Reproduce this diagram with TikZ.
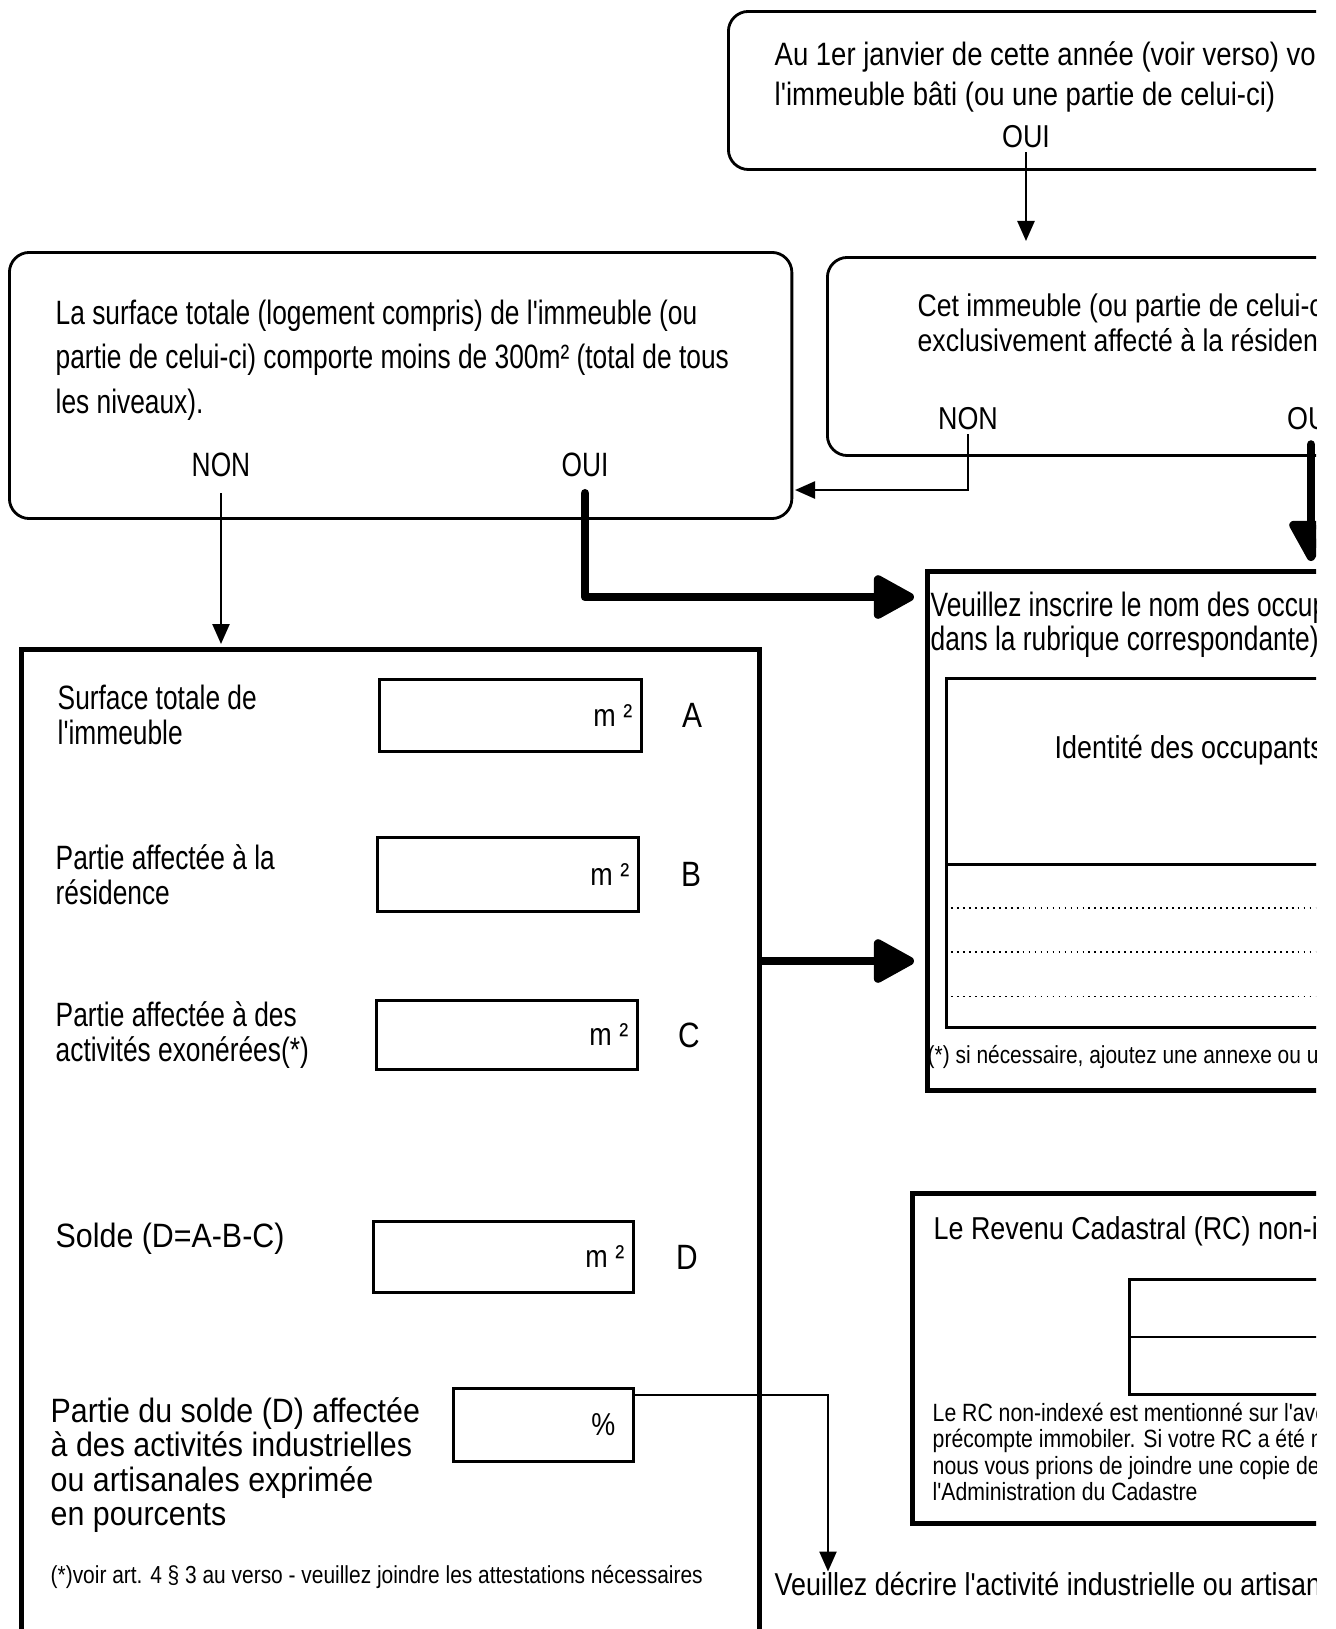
\documentclass[tikz,border=0pt]{standalone}
\usepackage{fontspec}
\setmainfont{Liberation Sans}
\newfontfamily\plainfont[FakeStretch=0.85]{Liberation Sans}
\newfontfamily\narrowfont[FakeStretch=0.78]{Liberation Sans}
\newfontfamily\midfont[FakeStretch=0.9]{Liberation Sans}
\usetikzlibrary{arrows.meta}

\begin{document}
\begin{tikzpicture}[
    x=0.01cm, y=-0.01cm,
    question/.style={draw, line width=0.8pt, rounded corners=0.2cm, anchor=north west, inner sep=0pt},
    panel/.style={draw, line width=1.4pt, anchor=north west, inner sep=0pt},
    field/.style={draw, line width=0.8pt, anchor=north west, inner sep=0pt},
    txt/.style={inner sep=0pt, align=left, anchor=west},
    answer/.style={inner sep=1pt},
    arrow/.style={-{Triangle[length=0.2cm, width=0.17cm]}, line width=0.7pt},
    bigarrow/.style={-{Triangle[length=0.45cm, width=0.47cm, round]}, line width=2.4pt, line cap=round, line join=round}
]
\fill[white] (0,0) rectangle (1335,1629);
\useasboundingbox (0,0) rectangle (1335,1629);
\begin{scope}
\clip (0,0) rectangle (1316,1629);

\node[question, minimum width=7cm, minimum height=1.58cm] (q1) at (727,10) {};
\node[txt, font=\plainfont\fontsize{9.2}{11.4}\selectfont] (q1text) at (774,77) {Au 1er janvier de cette année (voir verso) vo\\l'immeuble bâti (ou une partie de celui-ci)};
\node[answer, font=\plainfont\fontsize{9}{11}\selectfont] (oui1) at (1026,137) {OUI};

\node[question, minimum width=6cm, minimum height=1.98cm] (q2) at (826,256) {};
\node[txt, font=\plainfont\fontsize{8.9}{10}\selectfont] (q2text) at (917,323) {Cet immeuble (ou partie de celui-c\\exclusivement affecté à la résidenc};
\node[answer, font=\plainfont\fontsize{9}{11}\selectfont] (non2) at (968,419) {NON};
\node[answer, font=\plainfont\fontsize{9}{11}\selectfont] (oui2) at (1311,419) {OUI};

\node[question, minimum width=7.82cm, minimum height=2.66cm] (q3) at (8,251) {};
\node[txt, font=\narrowfont\fontsize{9.6}{12.7}\selectfont] (q3text) at (55,360) {La surface totale (logement compris) de l'immeuble (ou\\partie de celui-ci) comporte moins de 300m² (total de tous\\les niveaux).};
\node[answer, font=\narrowfont\fontsize{9.6}{11}\selectfont] (non3) at (221,465) {NON};
\node[answer, font=\narrowfont\fontsize{9.6}{11}\selectfont] (oui3) at (585,465) {OUI};

\node[panel, minimum width=5cm, minimum height=5.19cm] (r1) at (925,569) {};
\node[txt, font=\narrowfont\fontsize{9.6}{9.7}\selectfont] (r1text) at (930,625) {Veuillez inscrire le nom des occup\\dans la rubrique correspondante)};
\node[field, minimum width=4cm, minimum height=3.49cm] (tbl) at (945,677) {};
\node[txt, font=\plainfont\fontsize{9}{11}\selectfont] (idt) at (1054,750) {Identité des occupants};
\draw[line width=0.8pt] ([yshift=-1.87cm]tbl.north west) -- ([yshift=-1.87cm]tbl.north east);
\draw[dash pattern=on 0.5pt off 1.2pt] ([yshift=-2.31cm]tbl.north west) -- ([yshift=-2.31cm]tbl.north east);
\draw[dash pattern=on 0.5pt off 1.2pt] ([yshift=-2.75cm]tbl.north west) -- ([yshift=-2.75cm]tbl.north east);
\draw[dash pattern=on 0.5pt off 1.2pt] ([yshift=-3.19cm]tbl.north west) -- ([yshift=-3.19cm]tbl.north east);
\node[txt, font=\plainfont\fontsize{7}{8}\selectfont] (r1note) at (927,1057) {(*) si nécessaire, ajoutez une annexe ou u};

\node[panel, minimum width=7.38cm, minimum height=11cm] (lbox) at (19,647) {};
\node[txt, font=\narrowfont\fontsize{9.6}{10}\selectfont] (la) at (57,715) {Surface totale de\\l'immeuble};
\node[field, minimum width=2.62cm, minimum height=0.72cm] (fa) at (378,678) {};
\node[anchor=east, inner sep=0pt, font=\plainfont\fontsize{9}{11}\selectfont] (ua) at ([xshift=-0.1cm]fa.east) {m ²};
\node[font=\plainfont\fontsize{10}{12}\selectfont] (ka) at (692,715) {A};

\node[txt, font=\narrowfont\fontsize{9.6}{10}\selectfont] (lb) at (55,875) {Partie affectée à la\\résidence};
\node[field, minimum width=2.61cm, minimum height=0.74cm] (fb) at (376,836) {};
\node[anchor=east, inner sep=0pt, font=\plainfont\fontsize{9}{11}\selectfont] (ub) at ([xshift=-0.1cm]fb.east) {m ²};
\node[font=\plainfont\fontsize{10}{12}\selectfont] (kb) at (691,874) {B};

\node[txt, font=\narrowfont\fontsize{9.6}{10}\selectfont] (lc) at (55,1035) {Partie affectée à des\\activités exonérées(*)};
\node[field, minimum width=2.61cm, minimum height=0.69cm] (fc) at (375,999) {};
\node[anchor=east, inner sep=0pt, font=\plainfont\fontsize{9}{11}\selectfont] (uc) at ([xshift=-0.1cm]fc.east) {m ²};
\node[font=\plainfont\fontsize{10}{12}\selectfont] (kc) at (689,1035) {C};

\node[txt, font=\midfont\fontsize{9.6}{10}\selectfont] (ld) at (55,1239) {Solde (D=A-B-C)};
\node[field, minimum width=2.60cm, minimum height=0.71cm] (fd) at (372,1220) {};
\node[anchor=east, inner sep=0pt, font=\plainfont\fontsize{9}{11}\selectfont] (ud) at ([xshift=-0.1cm]fd.east) {m ²};
\node[font=\plainfont\fontsize{10}{12}\selectfont] (kd) at (687,1257) {D};

\node[txt, font=\midfont\fontsize{9.6}{9.8}\selectfont] (lp) at (50,1465) {Partie du solde (D) affectée\\à des activités industrielles\\ou artisanales exprimée\\en pourcents};
\node[field, minimum width=1.80cm, minimum height=0.73cm] (fp) at (452,1387) {};
\node[anchor=east, inner sep=0pt, font=\plainfont\fontsize{9}{11}\selectfont] (up) at ([xshift=-0.19cm]fp.east) {\%};
\node[txt, font=\plainfont\fontsize{7}{8}\selectfont] (lnote) at (50,1577) {(*)voir art. 4 § 3 au verso - veuillez joindre les attestations nécessaires};

\node[panel, minimum width=5cm, minimum height=3.30cm] (rc) at (910,1191) {};
\node[txt, font=\plainfont\fontsize{9}{11}\selectfont] (rctitle) at (933,1231) {Le Revenu Cadastral (RC) non-in};
\node[field, minimum width=3cm, minimum height=1.15cm] (rcf) at (1128,1278) {};
\draw[line width=0.8pt] ([yshift=-0.59cm]rcf.north west) -- ([yshift=-0.59cm]rcf.north east);
\node[txt, font=\plainfont\fontsize{7.1}{7.5}\selectfont] (rcnote) at (932,1452) {Le RC non-indexé est mentionné sur l'ave\\précompte immobiler. Si votre RC a été m\\nous vous prions de joindre une copie de\\l'Administration du Cadastre};

\node[txt, font=\plainfont\fontsize{9}{11}\selectfont] (desc) at (774,1584) {Veuillez décrire l'activité industrielle ou artisan};

\coordinate (q3in) at (795,490);
\coordinate (r1in) at (925,597);
\coordinate (mid) at (757,961);
\coordinate (dturn) at (828,1395);

\draw[arrow, shorten >=0.15cm] (oui1.south) -- (oui1.south |- q2.north);
\draw[arrow] (non2.south) |- (q3in);
\draw[bigarrow, shorten <=0.1cm, shorten >=0.08cm] (oui2.south) -- (oui2.south |- r1.north);
\draw[arrow, shorten <=0.12cm, shorten >=0.03cm] (non3.south) -- (non3.south |- lbox.north);
\draw[bigarrow, shorten <=0.12cm, shorten >=0.11cm] (oui3.south) |- (r1in);
\draw[bigarrow, shorten >=0.11cm] (lbox.east |- mid) -- (r1.west |- mid);
\draw[arrow] (fp.east |- dturn) -| (dturn |- desc.north);
\end{scope}
\end{tikzpicture}
\end{document}
